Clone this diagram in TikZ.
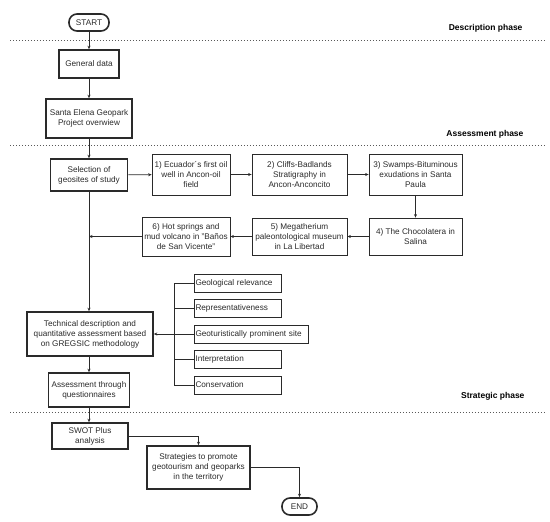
\documentclass[tikz,border=0pt]{standalone}
\usepackage{fontspec}
\setmainfont{Liberation Sans}
\usetikzlibrary{arrows.meta}
\definecolor{ln}{HTML}{2A2A2A}
\begin{document}
\begin{tikzpicture}[x=1pt,y=-1pt,
  txt/.style={font=\fontsize{8.2}{10}\selectfont, text=ln},
  tbox/.style={txt, draw=ln, line width=1.6pt, align=center, inner xsep=1pt, inner ysep=0pt},
  nbox/.style={txt, draw=ln, line width=0.7pt, align=center, inner xsep=1pt, inner ysep=0pt},
  cbox/.style={txt, draw=ln, line width=0.7pt, align=left, inner xsep=1.5pt, inner ysep=0pt},
  pill/.style={txt, draw=ln, line width=1.6pt, rounded corners=8pt, inner sep=0pt},
  conn/.style={draw=ln, line width=0.7pt},
  arr/.style={conn, -{Stealth[length=3.5pt,width=3pt]}},
  phase/.style={font=\fontsize{8.5}{10}\selectfont\bfseries, text=black, anchor=east},
  sepline/.style={draw=black!65, line width=0.8pt, dash pattern=on 0.8pt off 2.2pt}
]
\useasboundingbox (0,0) rectangle (550,522);

% phase separators
\coordinate (d1a) at (10,40);  \coordinate (d1b) at (545,40);
\coordinate (d2a) at (10,145); \coordinate (d2b) at (545,145);
\coordinate (d3a) at (10,412); \coordinate (d3b) at (545,412);
\draw[sepline] (d1a) -- (d1b);
\draw[sepline] (d2a) -- (d2b);
\draw[sepline] (d3a) -- (d3b);
\node[phase] (p1) at (526,28) {Description phase};
\node[phase] (p2) at (527,134) {Assessment phase};
\node[phase] (p3) at (528,396) {Strategic phase};

% main column
\node[pill, minimum width=40, minimum height=17] (start) at (89,22.5) {START};
\node[tbox, minimum width=60, minimum height=28] (gen) at (89,64) {General data};
\node[tbox, minimum width=86, minimum height=39] (sep) at (89,118.5) {Santa Elena Geopark\\Project overwiew};
\node[tbox, minimum width=77, minimum height=32] (sel) at (89,175) {Selection of\\geosites of study};

% geosites
\node[nbox, minimum width=78, minimum height=41] (s1) at (191,174.5) {1) Ecuador´s first oil\\well in Ancon-oil\\field};
\node[nbox, minimum width=95, minimum height=41] (s2) at (299.5,174.5) {2) Cliffs-Badlands\\Stratigraphy in\\Ancon-Anconcito};
\node[nbox, minimum width=93, minimum height=41] (s3) at (415.5,174.5) {3) Swamps-Bituminous\\exudations in Santa\\Paula};
\node[nbox, minimum width=93, minimum height=37] (s4) at (415.5,236.5) {4) The Chocolatera in\\Salina};
\node[nbox, minimum width=95, minimum height=37] (s5) at (299.5,236.5) {5) Megatherium\\paleontological museum\\in La Libertad};
\node[nbox, minimum width=88, minimum height=39] (s6) at (186,236.5) {6) Hot springs and\\mud volcano in "Baños\\de San Vicente"};
\coordinate (j6) at (89,236.5);

\node[tbox, minimum width=126, minimum height=44] (tech) at (90,334) {Technical description and\\quantitative assessment based\\on GREGSIC methodology};
\node[tbox, minimum width=81, minimum height=34] (quest) at (89,390) {Assessment through\\questionnaires};

% criteria
\node[cbox, minimum width=87, minimum height=18, text width=84] (c1) at (237.5,283) {Geological relevance};
\node[cbox, minimum width=87, minimum height=18, text width=84] (c2) at (237.5,308) {Representativeness};
\node[cbox, minimum width=114, minimum height=18, text width=111] (c3) at (251,334) {Geoturistically prominent site};
\node[cbox, minimum width=87, minimum height=18, text width=84] (c4) at (237.5,359) {Interpretation};
\node[cbox, minimum width=87, minimum height=18, text width=84] (c5) at (237.5,385) {Conservation};
\coordinate (bt) at (174,283);
\coordinate (bb) at (174,385);
\coordinate (bm) at (174,334);

% strategic
\node[tbox, minimum width=76, minimum height=26] (swot) at (90,436) {SWOT Plus\\analysis};
\node[tbox, minimum width=103, minimum height=43] (strat) at (198.5,467.5) {Strategies to promote\\geotourism and geoparks\\in the territory};
\node[pill, minimum width=35, minimum height=17] (end) at (299.5,506.5) {END};

% connectors
\draw[arr] (start) -- (gen);
\draw[arr] (gen) -- (sep);
\draw[arr] (sep) -- (sel);
\draw[arr] (sel) -- (s1);
\draw[arr] (s1) -- (s2);
\draw[arr] (s2) -- (s3);
\draw[arr] (s3) -- (s4);
\draw[arr] (s4) -- (s5);
\draw[arr] (s5) -- (s6);
\draw[arr] (s6) -- (j6);
\draw[arr] (sel.south) -- (sel.south |- tech.north);
\draw[arr] (tech.south -| quest) -- (quest.north);
\draw[arr] (quest) -- (quest.south |- swot.north);
\draw[conn] (bt) -- (bb);
\draw[conn] (bt) -- (c1.west);
\draw[conn] (c2.west -| bt) -- (c2.west);
\draw[conn] (bm) -- (c3.west);
\draw[conn] (c4.west -| bt) -- (c4.west);
\draw[conn] (bb) -- (c5.west);
\draw[arr] (bm) -- (tech.east);
\draw[arr] (swot.east) -| (strat.north);
\draw[arr] (strat.east) -| (end.north);
\end{tikzpicture}
\end{document}
